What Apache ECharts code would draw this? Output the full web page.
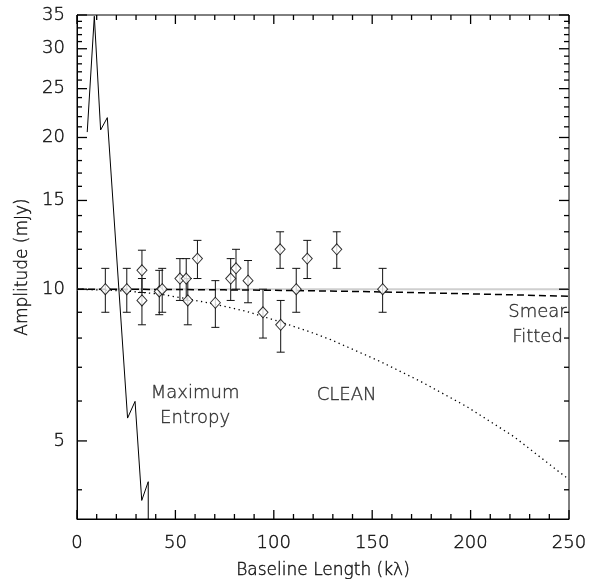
<!DOCTYPE html>
<html><head><meta charset="utf-8">
<script src="https://cdn.jsdelivr.net/npm/echarts@6/dist/echarts.min.js"></script>
<style>html,body{margin:0;padding:0;background:#fff}#c{width:602px;height:579px}</style>
</head><body><div id="c"></div><script>
// ---- data ----
const baselines  = [14.4, 25.3, 33.0, 33.0, 41.8, 43.3, 52.3, 55.5, 56.3, 61.2, 70.3, 78.1, 80.8, 86.9, 94.5, 103.2, 103.5, 111.4, 117.0, 132.0, 155.3];
const amplitudes = [10.0, 10.0, 10.9, 9.5, 9.9, 10.0, 10.5, 10.5, 9.5, 11.5, 9.4, 10.5, 11.0, 10.4, 9.0, 12.0, 8.5, 10.0, 11.5, 12.0, 10.0];
const errors     = [1.0, 1.0, 1.05, 1.0, 1.0, 1.0, 1.0, 1.0, 1.0, 1.0, 1.0, 1.0, 1.0, 1.0, 1.0, 1.0, 1.0, 1.0, 1.0, 1.0, 1.0];

const maxEntX = [5.2, 8.8, 12.0, 15.4, 25.7, 29.5, 32.9, 36.2, 36.2];
const maxEntY = [20.5, 34.8, 20.7, 21.9, 5.55, 5.99, 3.81, 4.15, 3.0];

const smearX = [0, 25, 50, 75, 100, 125, 150, 175, 200, 225, 250];
const smearY = [10.0, 9.997, 9.987, 9.97, 9.95, 9.92, 9.885, 9.84, 9.79, 9.74, 9.68];

const cleanX = [0, 25, 42, 56, 70, 86, 103, 118, 129, 154, 175, 198, 222, 248, 250];
const cleanY = [10.0, 9.92, 9.78, 9.57, 9.34, 9.04, 8.62, 8.24, 7.94, 7.19, 6.55, 5.85, 5.1, 4.25, 4.19];

const trueX = [0, 250];
const trueY = [10, 10];

const xMajorTicks = [0, 50, 100, 150, 200, 250];
const xMinorTicks = [10, 20, 30, 40, 60, 70, 80, 90, 110, 120, 130, 140, 160, 170, 180, 190, 210, 220, 230, 240];
const yMajorTicks = [5, 10, 15, 20, 25, 30, 35];
const yMinorTicks = [4, 6, 7, 8, 9, 11, 12, 13, 14, 16, 17, 18, 19, 21, 22, 23, 24, 26, 27, 28, 29, 31, 32, 33, 34];
const xRange = [0, 250];
const yRange = [3.5, 35];

const labels = [
  {x: 60, y: 5.87, text: 'Maximum\nEntropy'},
  {x: 137, y: 6.17, text: 'CLEAN'},
  {x: 234, y: 8.48, text: 'Smear\nFitted'}
];

// ---- chart ----
const FONT = 'DejaVu Sans';
const TXT = '#111';
const W = 200;
const TB = {textBorderColor: '#111', textBorderWidth: 0.4};
const L = v => Math.log10(v);
const zip = (a, b) => a.map((v, i) => [v, b[i]]);
const MAJ = 9, MIN = 5;

// items: [x, y1, y2, kind, length]; kind 0 = error bar, 1..4 = tick on bottom/top/left/right
const markData = baselines.map((x, i) => [x, amplitudes[i] - errors[i], amplitudes[i] + errors[i], 0, 0]);
[[xMajorTicks, MAJ], [xMinorTicks, MIN]].forEach(([arr, len]) => arr.forEach(v => {
  markData.push([v, yRange[0], yRange[0], 1, len]);
  markData.push([v, yRange[1], yRange[1], 2, len]);
}));
[[yMajorTicks, MAJ + 1], [yMinorTicks, MIN]].forEach(([arr, len]) => arr.forEach(v => {
  markData.push([xRange[0], v, v, 3, len]);
  markData.push([xRange[1], v, v, 4, len]);
}));

const chart = echarts.init(document.getElementById('c'));
chart.setOption({
  animation: false,
  grid: {left: 77, right: 33, top: 15, bottom: 60, outerBoundsMode: 'none', show: true, borderColor: '#000', borderWidth: 1},
  xAxis: {type: 'value', min: xRange[0], max: xRange[1], interval: 50,
     name: 'Baseline Length (kλ)', nameLocation: 'middle', nameGap: 43,
     nameTextStyle: Object.assign({fontFamily: FONT, fontWeight: W, fontSize: 17, color: TXT}, TB),
     axisLine: {show: true, onZero: false, lineStyle: {color: '#000', width: 1}},
     axisTick: {show: false},
     axisLabel: Object.assign({margin: 15, fontFamily: FONT, fontWeight: W, fontSize: 18, color: TXT}, TB),
     splitLine: {show: false}},
  yAxis: [
    {type: 'log', logBase: 10, min: yRange[0], max: yRange[1],
     axisLine: {show: false}, axisTick: {show: false}, axisLabel: {show: false}, splitLine: {show: false}},
    {type: 'value', position: 'left', min: L(yRange[0]), max: L(yRange[1]),
     name: 'Amplitude (mJy)', nameLocation: 'middle', nameGap: 37, nameRotate: 90,
     nameTextStyle: Object.assign({fontFamily: FONT, fontWeight: W, fontSize: 17, color: TXT}, TB),
     axisLine: {show: true, onZero: false, lineStyle: {color: '#000', width: 1}},
     axisTick: {show: false},
     axisLabel: Object.assign({show: true, customValues: yMajorTicks.map(L), margin: 12, fontFamily: FONT, fontWeight: W, fontSize: 18, color: TXT,
       formatter: v => String(Math.round(Math.pow(10, v)))}, TB),
     splitLine: {show: false}}
  ],
  series: [
    {type: 'line', data: zip(trueX, trueY), symbol: 'none', lineStyle: {color: '#cfcfcf', width: 2}, z: 1},
    {type: 'line', data: zip(smearX, smearY), symbol: 'none', lineStyle: {color: '#000', width: 1.5, type: [7, 4]}, z: 2},
    {type: 'line', data: zip(cleanX, cleanY), symbol: 'none', lineStyle: {color: '#000', width: 1.3, type: [1.3, 3.5]}, z: 2},
    {type: 'line', data: zip(maxEntX, maxEntY), symbol: 'none', lineStyle: {color: '#000', width: 1}, z: 3},
    {type: 'custom', z: 4, clip: false,
     data: markData,
     encode: {x: 0, y: [1, 2]},
     renderItem: function (params, api) {
       const x = api.value(0);
       const kind = api.value(3);
       const lo = api.coord([x, api.value(1)]);
       if (kind === 0) {
         const hi = api.coord([x, api.value(2)]);
         const w = 4;
         const st = {stroke: '#111', lineWidth: 1};
         return {type: 'group', children: [
           {type: 'line', shape: {x1: hi[0], y1: hi[1], x2: lo[0], y2: lo[1]}, style: st},
           {type: 'line', shape: {x1: hi[0] - w, y1: hi[1], x2: hi[0] + w, y2: hi[1]}, style: st},
           {type: 'line', shape: {x1: lo[0] - w, y1: lo[1], x2: lo[0] + w, y2: lo[1]}, style: st}
         ]};
       }
       const len = api.value(4), t = 1.3, fs = {fill: '#000'};
       let r;
       if (kind === 1) r = {x: lo[0] - t / 2, y: lo[1] - len, width: t, height: len};
       else if (kind === 2) r = {x: lo[0] - t / 2, y: lo[1], width: t, height: len};
       else if (kind === 3) r = {x: lo[0], y: lo[1] - t / 2, width: len, height: t};
       else r = {x: lo[0] - len, y: lo[1] - t / 2, width: len, height: t};
       return {type: 'rect', shape: r, style: fs};
     }},
    {type: 'scatter', z: 5, data: zip(baselines, amplitudes), symbol: 'diamond', symbolSize: [10, 11],
     itemStyle: {color: '#fff', borderColor: '#000', borderWidth: 1}},
    {type: 'scatter', z: 6, silent: true, symbolSize: 0,
     data: labels.map(d => ({value: [d.x, d.y], name: d.text})),
     label: Object.assign({show: true, position: 'inside', formatter: p => p.name, fontFamily: FONT, fontWeight: W,
             fontSize: 18, lineHeight: 25, color: TXT, align: 'center', verticalAlign: 'middle'}, TB)}
  ]
});
</script></body></html>
